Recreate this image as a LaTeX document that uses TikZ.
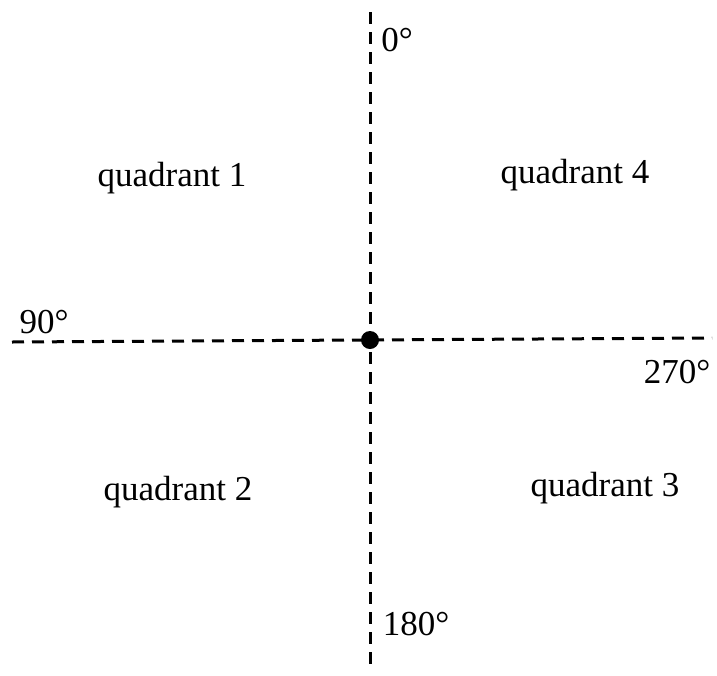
\documentclass[tikz,border=0pt]{standalone}
\usepackage{fontspec}
\setmainfont{Liberation Serif}
\begin{document}
\begin{tikzpicture}[x=1pt,y=-1pt,
  axis/.style={line width=3pt, dash pattern=on 12pt off 8pt},
  lab/.style={font=\fontsize{35}{42}\selectfont, inner sep=0pt},
  dot/.style={circle, fill=black, minimum size=18pt, inner sep=0pt}]
\useasboundingbox (0,0) rectangle (717,675);
\node[dot] (c) at (370,340) {};
\coordinate (top) at (370,12);
\coordinate (bot) at (370,668);
\coordinate (lft) at (12,342);
\coordinate (rgt) at (712,338);
\draw[axis] (top) -- (bot);
\draw[axis] (lft) -- (rgt);
\node[lab] (a0) at (397,40) {0°};
\node[lab] (a90) at (44,322) {90°};
\node[lab] (a270) at (677,372) {270°};
\node[lab] (a180) at (416,624) {180°};
\node[lab] (q1) at (172,178) {quadrant 1};
\node[lab] (q4) at (575,175) {quadrant 4};
\node[lab] (q2) at (178,492) {quadrant 2};
\node[lab] (q3) at (605,488) {quadrant 3};
\end{tikzpicture}
\end{document}
